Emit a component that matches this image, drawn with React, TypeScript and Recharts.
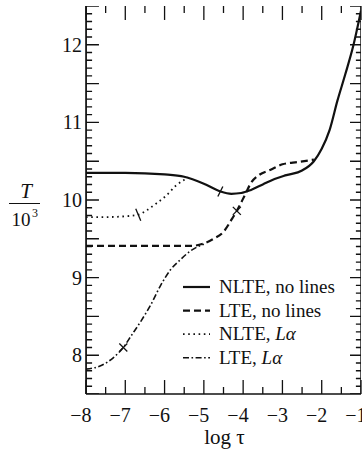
import { ComposedChart, Line, XAxis, YAxis, Legend, Label, ReferenceLine } from 'recharts';

// log tau samples and T/10^3
const nlteNoLinesX = [-8, -7, -6, -5.5, -5, -4.58, -4.3, -4.05, -3.8, -3.5, -3.2, -2.9, -2.5, -2.2, -2.0, -1.8, -1.6, -1.4, -1.2, -1.0];
const nlteNoLinesT = [10.35, 10.35, 10.33, 10.3, 10.21, 10.11, 10.08, 10.09, 10.13, 10.2, 10.27, 10.32, 10.38, 10.5, 10.66, 10.9, 11.28, 11.62, 11.98, 12.44];

const lteNoLinesX = [-8, -7, -6, -5.3, -5.0, -4.75, -4.5, -4.28, -4.16, -3.95, -3.8, -3.6, -3.3, -3.0, -2.6, -2.2];
const lteNoLinesT = [9.41, 9.41, 9.41, 9.41, 9.44, 9.5, 9.59, 9.76, 9.86, 10.07, 10.22, 10.32, 10.39, 10.46, 10.49, 10.52];

const nlteLaX = [-8, -7.5, -7, -6.67, -6.45, -6.2, -5.95, -5.7, -5.5, -5.4];
const nlteLaT = [9.78, 9.78, 9.79, 9.81, 9.87, 9.96, 10.06, 10.19, 10.26, 10.29];

const lteLaX = [-8, -7.6, -7.3, -7.05, -6.85, -6.6, -6.35, -6.1, -5.85, -5.6, -5.35, -5.15, -5.0];
const lteLaT = [7.82, 7.87, 7.97, 8.1, 8.25, 8.44, 8.65, 8.9, 9.1, 9.23, 9.34, 9.4, 9.43];

const xLabels = [-8, -7, -6, -5, -4, -3, -2, -1];
const xTicks = [-8, -7.5, -7, -6.5, -6, -5.5, -5, -4.5, -4, -3.5, -3, -2.5, -2, -1.5, -1];
const yLabels = [8, 9, 10, 11, 12];
const yTicks: number[] = [];
for (let i = 0; i <= 50; i++) yTicks.push(Math.round((7.5 + i * 0.1) * 10) / 10);

const X_MIN = -8;
const X_MAX = -1;
const Y_MIN = 7.5;
const Y_MAX = 12.5;

const FONT = '"Liberation Serif", "DejaVu Serif", serif';
const INK = '#111';

const toPoints = (xs: number[], ys: number[]) => xs.map((x, i) => ({ x, y: ys[i] }));

const series = [
  { key: 'nlteNoLines', name: 'NLTE, no lines', italic: '', data: toPoints(nlteNoLinesX, nlteNoLinesT), dash: undefined, width: 2.2, markX: -4.58, mark: 'slash' },
  { key: 'lteNoLines', name: 'LTE, no lines', italic: '', data: toPoints(lteNoLinesX, lteNoLinesT), dash: '7 4', width: 2.2, markX: -4.16, mark: 'cross' },
  { key: 'nlteLa', name: 'NLTE, ', italic: 'L\u03b1', data: toPoints(nlteLaX, nlteLaT), dash: '1.6 3.6', width: 1.8, markX: -6.67, mark: 'back' },
  { key: 'lteLa', name: 'LTE, ', italic: 'L\u03b1', data: toPoints(lteLaX, lteLaT), dash: '6 2.5 1.6 2.5', width: 1.6, markX: -7.05, mark: 'cross' },
];

const fmt = (v: number) => (v < 0 ? '\u2212' + Math.abs(v) : String(v));
const isWhole = (v: number) => Math.abs(v - Math.round(v)) < 1e-6;
const isHalf = (v: number) => Math.abs(v * 2 - Math.round(v * 2)) < 1e-6;

// tick lengths in data units (x ticks measured along y, y ticks along x)
const xTickLen = (v: number) => (isWhole(v) ? 0.18 : 0.09);
const leftLen = (v: number) => (isHalf(v) ? 0.33 : 0.155);
const rightLen = (v: number) => (isHalf(v) ? 0.28 : 0.13);

// inward tick marks on the left and right frame, each side as one comb polyline
const leftComb = yTicks.flatMap((v) => [
  { x: X_MIN, y: v },
  { x: X_MIN + leftLen(v), y: v },
  { x: X_MIN, y: v },
]);
const rightComb = yTicks.flatMap((v) => [
  { x: X_MAX, y: v },
  { x: X_MAX - rightLen(v), y: v },
  { x: X_MAX, y: v },
]);

function BottomTick(props: any) {
  const { x, y, payload } = props;
  const v = payload.value;
  if (!xLabels.includes(v)) return <g />;
  return (
    <text x={x + 5.5} y={y + 28} textAnchor="end" fontSize={20} fontFamily={FONT} fill={INK}>
      {fmt(v)}
    </text>
  );
}

function LeftTick(props: any) {
  const { x, y, payload } = props;
  const v = payload.value;
  if (!yLabels.includes(v)) return <g />;
  return (
    <text x={x - 4} y={y + 7} textAnchor="end" fontSize={20} fontFamily={FONT} fill={INK}>
      {v}
    </text>
  );
}

function YTitle(props: any) {
  const vb = props.viewBox || { x: 0, y: 6 };
  return (
    <g fontFamily={FONT} fill={INK}>
      <text x={vb.x + 26} y={198} textAnchor="middle" fontSize={21} fontStyle="italic">T</text>
      <line x1={vb.x + 9} x2={vb.x + 40} y1={203.5} y2={203.5} stroke={INK} strokeWidth={1} />
      <text x={vb.x + 21} y={226} textAnchor="middle" fontSize={19}>10</text>
      <text x={vb.x + 35} y={217} textAnchor="middle" fontSize={12}>3</text>
    </g>
  );
}

function XTitle(props: any) {
  const vb = props.viewBox || { x: 86, y: 394, width: 275 };
  return (
    <text x={vb.x + vb.width / 2 + 1} y={vb.y + 50} textAnchor="middle" fontSize={21} fontFamily={FONT} fill={INK}>
      log {'\u03c4'}
    </text>
  );
}

function makeDot(markX: number, kind: string) {
  return (p: any) => {
    const { cx, cy, payload, index } = p;
    if (payload.x !== markX || cx == null) return <g key={'d' + index} />;
    if (kind === 'cross') {
      return (
        <g key={'d' + index} stroke={INK} strokeWidth={1.3}>
          <line x1={cx - 4} y1={cy - 4} x2={cx + 4} y2={cy + 4} />
          <line x1={cx - 4} y1={cy + 4} x2={cx + 4} y2={cy - 4} />
        </g>
      );
    }
    if (kind === 'slash') {
      return <line key={'d' + index} x1={cx - 2.5} y1={cy + 5} x2={cx + 2.5} y2={cy - 5} stroke={INK} strokeWidth={1.3} />;
    }
    return <line key={'d' + index} x1={cx - 2.5} y1={cy - 6} x2={cx + 2.5} y2={cy + 6} stroke={INK} strokeWidth={1.3} />;
  };
}

function LegendBox() {
  return (
    <svg width={180} height={100} style={{ display: 'block' }}>
      {series.map((s, i) => {
        const base = 18 + i * 23.6;
        return (
          <g key={s.key}>
            <line x1={3} x2={30} y1={base - 6} y2={base - 6} stroke={INK} strokeWidth={s.width} strokeDasharray={s.dash} />
            <text x={39} y={base} fontSize={19} fontFamily={FONT} fill={INK}>
              {s.name}
              {s.italic && <tspan fontStyle="italic">{s.italic}</tspan>}
            </text>
          </g>
        );
      })}
    </svg>
  );
}

const axisLine = { stroke: INK, strokeWidth: 1.6 };
const tickLineProps = { stroke: INK, strokeWidth: 1.3, ifOverflow: 'visible' as const };

export default function App() {
  return (
    <div style={{ position: 'absolute', left: 0, top: 0, width: 362, height: 454, overflow: 'hidden', background: '#fff' }}>
      <ComposedChart width={362} height={454} margin={{ top: 6, right: 1, bottom: 0, left: 0 }}>
        <XAxis dataKey="x" type="number" domain={[X_MIN, X_MAX]} ticks={xTicks} interval={0} allowDataOverflow
          height={60} tickSize={0} tickMargin={0} tickLine={false} axisLine={axisLine} tick={BottomTick}>
          <Label content={XTitle} />
        </XAxis>
        <XAxis xAxisId="top" orientation="top" type="number" domain={[X_MIN, X_MAX]} allowDataOverflow
          height={0} tick={false} tickLine={false} axisLine={axisLine} />
        <YAxis type="number" domain={[Y_MIN, Y_MAX]} ticks={yLabels} interval={0} allowDataOverflow
          width={86} tickSize={0} tickMargin={0} tickLine={false} axisLine={axisLine} tick={LeftTick}>
          <Label content={YTitle} />
        </YAxis>
        <YAxis yAxisId="right" orientation="right" type="number" domain={[Y_MIN, Y_MAX]} allowDataOverflow
          width={0} tick={false} tickLine={false} axisLine={axisLine} />

        {xTicks.map((v) => (
          <ReferenceLine key={'xb' + v} segment={[{ x: v, y: Y_MIN }, { x: v, y: Y_MIN + xTickLen(v) }]} {...tickLineProps} />
        ))}
        {xTicks.map((v) => (
          <ReferenceLine key={'xt' + v} segment={[{ x: v, y: Y_MAX }, { x: v, y: Y_MAX - xTickLen(v) }]} {...tickLineProps} />
        ))}
        <Line data={leftComb} dataKey="y" name="leftTicks" type="linear" stroke={INK} strokeWidth={1.4}
          dot={false} activeDot={false} legendType="none" isAnimationActive={false} />
        <Line data={rightComb} dataKey="y" name="rightTicks" type="linear" stroke={INK} strokeWidth={1.4}
          dot={false} activeDot={false} legendType="none" isAnimationActive={false} />

        {series.map((s) => (
          <Line
            key={s.key}
            data={s.data}
            dataKey="y"
            name={s.key}
            type="monotone"
            stroke={INK}
            strokeWidth={s.width}
            strokeDasharray={s.dash}
            dot={makeDot(s.markX, s.mark)}
            activeDot={false}
            isAnimationActive={false}
          />
        ))}
        <Legend layout="vertical" align="center" verticalAlign="middle" content={LegendBox}
          wrapperStyle={{ left: 180, top: 275, width: 180, height: 100 }} />
      </ComposedChart>
    </div>
  );
}
